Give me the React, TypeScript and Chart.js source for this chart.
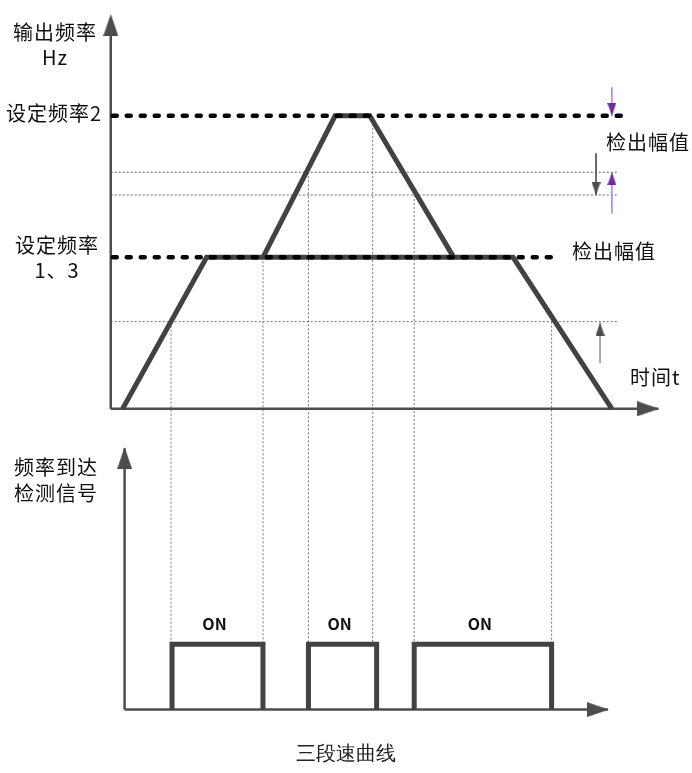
import React, { useEffect, useRef } from "react";
import { Chart, registerables } from "chart.js";

Chart.register(...registerables);

// ---------------- data (time units / frequency units / signal 0-1) ----------------
const SET_FREQ_2 = 59.2;
const SET_FREQ_1_3 = 30.6;
const BAND_UPPER = 47.8;
const BAND_LOWER = 43.2;
const DETECT_LEVEL = 17.6;

// extents of the horizontal reference lines (time)
const set2LineTimes = [0.2, 52.4];
const set1LineTimes = [0.2, 45.2];
const bandLineTimes = [0, 51.4];

// speed profile for set frequency 1 & 3
const ramp1Times = [1.2, 9.7, 40.7, 50.7];
const ramp1Freqs = [0, 30.6, 30.6, 0];
// speed profile for set frequency 2
const ramp2Times = [15.4, 22.7, 26.2, 34.7];
const ramp2Freqs = [30.6, 59.2, 59.2, 30.6];

// vertical guide lines: time and the frequency level they start from
const guideTimes = [6.1, 15.4, 20.0, 26.5, 30.7, 44.6];
const guideFreqs = [17.6, 30.6, 47.8, 59.2, 43.2, 17.6];

// frequency-arrival detection signal pulses
const pulseStarts = [6.2, 20.0, 30.7];
const pulseEnds = [15.4, 26.9, 44.6];
const pulseLabels = ["ON", "ON", "ON"];

// axes (time/frequency/signal of origin and arrow tips)
const topAxisTimes = [0, 55.5];
const topAxisFreqTip = 79.8;
const bottomAxisTimes = [1.4, 50.4];
const bottomAxisSigTip = 4.02;

// detection-width arrows: time, from, to
const purpleArrowTimes = [50.7, 50.7];
const purpleArrowFrom = [65, 39.4];
const purpleArrowTo = [59.2, 47.8];
const grayArrowTimes = [49.1, 49.5];
const grayArrowFrom = [51.6, 9.2];
const grayArrowTo = [43.2, 17.4];

// ---------------- layout ----------------
const W = 692;
const H = 773;
const X0 = 108, PX_T = 10;
const F0 = 409, PX_F = 5;
const S0 = 713, PX_S = 66;

const fAtPx = (px: number) => (F0 - px) / PX_F;
const pxAtS = (s: number) => S0 - s * PX_S;

const TEXT = "#111111";
const LINE = "#424242";
const AXIS = "#4d4d4d";
const DOT = "#666666";
const FONT = '"Noto Sans CJK SC", "Noto Sans", sans-serif';

function arrowHead(w: number, h: number, color: string) {
  const c = document.createElement("canvas");
  c.width = w;
  c.height = 2 * h;
  const g = c.getContext("2d")!;
  g.fillStyle = color;
  g.beginPath();
  g.moveTo(w / 2, h);
  g.lineTo(w, 2 * h);
  g.lineTo(0, 2 * h);
  g.closePath();
  g.fill();
  return c;
}

function seg(xs: number[], ys: number[], style: any, axis = "y") {
  return {
    data: xs.map((x, i) => ({ x, y: ys[i] })),
    yAxisID: axis,
    showLine: true,
    pointRadius: 0,
    fill: false,
    tension: 0,
    borderCapStyle: "butt",
    borderJoinStyle: "miter",
    ...style,
  };
}

const labels = [
  { t: "输出频率", x: 55, y: 32, a: "center" },
  { t: "Hz", x: 55, y: 57, a: "center" },
  { t: "设定频率2", x: 6, y: 113, a: "left" },
  { t: "设定频率", x: 57, y: 245, a: "center" },
  { t: "1、3", x: 57, y: 270, a: "center" },
  { t: "检出幅值", x: 606, y: 142, a: "left" },
  { t: "检出幅值", x: 572, y: 251, a: "left" },
  { t: "时间t", x: 630, y: 377, a: "left" },
  { t: "频率到达", x: 14, y: 467, a: "left" },
  { t: "检测信号", x: 14, y: 493, a: "left" },
];

const labelPlugin = {
  id: "diagramLabels",
  afterDatasetsDraw(chart: any) {
    const ctx = chart.ctx;
    const xs = chart.scales.x;
    const ss = chart.scales.ys;
    ctx.save();
    ctx.fillStyle = TEXT;
    ctx.textBaseline = "middle";
    ctx.font = `20px ${FONT}`;
    try { (ctx as any).letterSpacing = "1px"; } catch (e) {}
    labels.forEach((l) => {
      ctx.textAlign = l.a;
      ctx.fillText(l.t, l.x, l.y);
    });
    try { (ctx as any).letterSpacing = "0px"; } catch (e) {}
    ctx.font = `bold 16px ${FONT}`;
    ctx.textAlign = "center";
    pulseLabels.forEach((t, i) => {
      const cx = xs.getPixelForValue((pulseStarts[i] + pulseEnds[i]) / 2) - 3;
      const cy = ss.getPixelForValue(1) - 20;
      ctx.fillText(t, cx, cy);
    });
    ctx.font = `20px serif`;
    ctx.fillStyle = "#222";
    ctx.fillText("三段速曲线", 346, 755);
    ctx.restore();
  },
};

export default function App() {
  const ref = useRef<HTMLCanvasElement>(null);

  useEffect(() => {
    document.body.style.margin = "0";
    const bigUp = arrowHead(15, 22, AXIS);
    const smallGray = arrowHead(9, 13, "#4d4d4d");
    const smallPurple = arrowHead(9, 13, "#6e2aa8");

    const guideBottom = fAtPx(pxAtS(1));

    const datasets: any[] = [];

    // thick dotted set-frequency lines (on top)
    const thickDot = { borderColor: "#000", borderWidth: 4.5, borderDash: [4, 10], borderCapStyle: "round" };
    datasets.push(seg(set2LineTimes, [SET_FREQ_2, SET_FREQ_2], thickDot));
    datasets.push(seg(set1LineTimes, [SET_FREQ_1_3, SET_FREQ_1_3], thickDot));

    // arrowheads
    datasets.push({
      data: [
        { x: topAxisTimes[0], y: topAxisFreqTip },
        { x: topAxisTimes[1], y: 0 },
      ],
      yAxisID: "y",
      showLine: false,
      pointRadius: 1,
      pointBorderWidth: 0,
      pointStyle: [bigUp, bigUp],
      rotation: [0, 90],
    });
    datasets.push({
      data: [
        { x: bottomAxisTimes[0], y: bottomAxisSigTip },
        { x: bottomAxisTimes[1], y: 0 },
      ],
      yAxisID: "ys",
      showLine: false,
      pointRadius: 1,
      pointBorderWidth: 0,
      pointStyle: [bigUp, bigUp],
      rotation: [0, 90],
    });
    datasets.push({
      data: purpleArrowTimes.map((t, i) => ({ x: t, y: purpleArrowTo[i] })),
      yAxisID: "y",
      showLine: false,
      pointRadius: 1,
      pointBorderWidth: 0,
      pointStyle: purpleArrowTimes.map(() => smallPurple),
      rotation: purpleArrowTimes.map((_, i) => (purpleArrowTo[i] < purpleArrowFrom[i] ? 180 : 0)),
    });
    datasets.push({
      data: grayArrowTimes.map((t, i) => ({ x: t, y: grayArrowTo[i] })),
      yAxisID: "y",
      showLine: false,
      pointRadius: 1,
      pointBorderWidth: 0,
      pointStyle: grayArrowTimes.map(() => smallGray),
      rotation: grayArrowTimes.map((_, i) => (grayArrowTo[i] < grayArrowFrom[i] ? 180 : 0)),
    });

    // arrow shafts
    purpleArrowTimes.forEach((t, i) =>
      datasets.push(seg([t, t], [purpleArrowFrom[i], purpleArrowTo[i]], { borderColor: "#a77fd6", borderWidth: 1.5 }))
    );
    grayArrowTimes.forEach((t, i) =>
      datasets.push(seg([t, t], [grayArrowFrom[i], grayArrowTo[i]], { borderColor: "#555", borderWidth: 1 }))
    );

    // speed profiles
    const prof = { borderColor: LINE, borderWidth: 5 };
    datasets.push(seg(ramp2Times, ramp2Freqs, prof));
    datasets.push(seg(ramp1Times, ramp1Freqs, prof));

    // pulses
    pulseStarts.forEach((s, i) =>
      datasets.push(
        seg([s, s, pulseEnds[i], pulseEnds[i]], [0, 1, 1, 0], { borderColor: LINE, borderWidth: 5 }, "ys")
      )
    );

    // axes
    const ax = { borderColor: AXIS, borderWidth: 2.5 };
    datasets.push(seg([topAxisTimes[0], topAxisTimes[0]], [0, topAxisFreqTip - 1], ax));
    datasets.push(seg([topAxisTimes[0], topAxisTimes[1] - 0.1], [0, 0], ax));
    datasets.push(seg([bottomAxisTimes[0], bottomAxisTimes[0]], [0, bottomAxisSigTip - 0.02], ax, "ys"));
    datasets.push(seg([bottomAxisTimes[0], bottomAxisTimes[1] - 0.1], [0, 0], ax, "ys"));

    // thin dotted band lines
    const thin = { borderColor: DOT, borderWidth: 1, borderDash: [2, 2] };
    [BAND_UPPER, BAND_LOWER, DETECT_LEVEL].forEach((f) => datasets.push(seg(bandLineTimes, [f, f], thin)));

    // vertical guides
    guideTimes.forEach((t, i) =>
      datasets.push(seg([t, t], [guideFreqs[i], guideBottom], { borderColor: "#777", borderWidth: 1, borderDash: [2, 2] }))
    );

    const chart = new Chart(ref.current!, {
      type: "scatter",
      data: { datasets },
      options: {
        animation: false,
        responsive: false,
        events: [],
        layout: { padding: 0 },
        plugins: { legend: { display: false }, tooltip: { enabled: false } },
        scales: {
          x: { type: "linear", display: false, min: -X0 / PX_T, max: (W - X0) / PX_T },
          y: { type: "linear", display: false, min: (F0 - H) / PX_F, max: F0 / PX_F },
          ys: { type: "linear", display: false, min: (S0 - H) / PX_S, max: S0 / PX_S },
        },
      } as any,
      plugins: [labelPlugin],
    });
    return () => chart.destroy();
  }, []);

  return <canvas ref={ref} width={W} height={H} style={{ display: "block" }} />;
}
